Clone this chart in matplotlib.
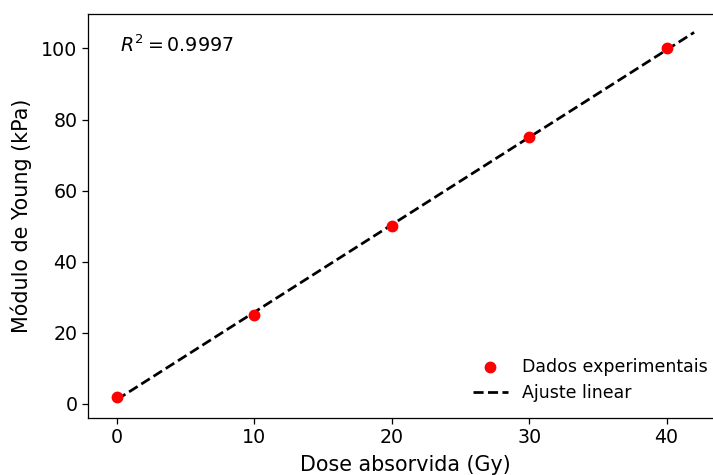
import numpy as np
import matplotlib
matplotlib.use("Agg")
import matplotlib.pyplot as plt

dose = [0, 10, 20, 30, 40]
young = [2, 25, 50, 75, 100]
r2_label = r"$R^2 = 0.9997$"

slope, intercept = np.polyfit(dose, young, 1)
x_fit = np.linspace(0, 42, 100)
y_fit = slope * x_fit + intercept

s = 1.14
plt.rcParams["axes.linewidth"] = 0.8 * s
plt.rcParams["xtick.major.width"] = 0.8 * s
plt.rcParams["ytick.major.width"] = 0.8 * s
plt.rcParams["xtick.major.size"] = 3.5 * s
plt.rcParams["ytick.major.size"] = 3.5 * s

fig = plt.figure(figsize=(7.13, 4.75), dpi=100)
ax = fig.add_axes([88/713, 1-418/475, (723-88)/713, (418-14)/475])
ax.scatter(dose, young, color="red", s=36 * s * s * 1.2, zorder=3, label="Dados experimentais")
ax.plot(x_fit, y_fit, "k--", lw=1.5 * s * 1.15, label="Ajuste linear")
ax.set_xlabel("Dose absorvida (Gy)", fontsize=13 * s, labelpad=5.5)
ax.set_ylabel("Módulo de Young (kPa)", fontsize=13 * s, labelpad=6.5)
ax.tick_params(labelsize=12 * s)
ax.text(0.05, 0.905, r2_label, transform=ax.transAxes, fontsize=12 * s)
ax.legend(loc="lower right", frameon=False, fontsize=11 * s)
ax.set_xticks([0, 10, 20, 30, 40])
fig.savefig("out.png", dpi=100)
